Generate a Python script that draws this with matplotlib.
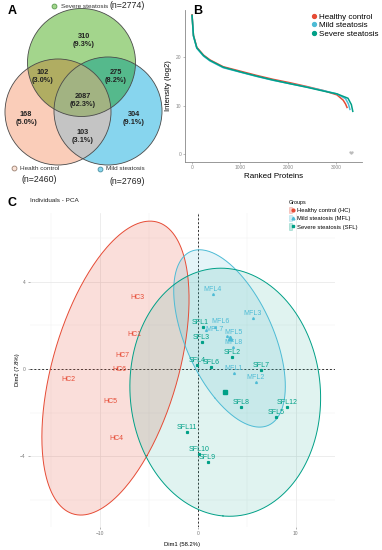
import numpy as np
import matplotlib
matplotlib.use("Agg")
import matplotlib.pyplot as plt
from matplotlib.patches import Circle, Patch
from matplotlib.lines import Line2D
from matplotlib.legend_handler import HandlerTuple

plt.rcParams['font.family'] = ['Liberation Sans', 'DejaVu Sans']

# ---- panel A data: venn region counts
venn_regions = ["S", "HS", "SM", "HSM", "H", "M", "HM"]
venn_counts = [310, 102, 275, 2087, 168, 304, 103]
set_names = ["Severe steatosis", "Health control", "Mild steatosis"]

# ---- panel B data: ranked protein intensities (log2)
rank_hc = [1, 30, 100, 240, 375, 650, 1000, 1350, 1690, 2040, 2400, 2730, 3020, 3150, 3200, 3230]
int_hc = [28.7, 24.5, 22.0, 20.4, 19.4, 18.0, 17.1, 16.2, 15.4, 14.7, 13.9, 13.1, 12.2, 11.1, 10.3, 9.6]
rank_mfl = [1, 30, 100, 240, 375, 650, 1000, 1350, 1690, 2040, 2400, 2730, 3020, 3200, 3260, 3290]
int_mfl = [28.5, 24.3, 21.8, 20.2, 19.2, 17.8, 16.9, 16.0, 15.2, 14.5, 13.8, 13.1, 12.4, 11.4, 10.3, 9.2]
rank_sfl = [1, 30, 100, 240, 375, 650, 1000, 1350, 1690, 2040, 2400, 2730, 3020, 3250, 3320, 3350]
int_sfl = [28.6, 24.4, 21.9, 20.3, 19.3, 17.9, 16.95, 16.05, 15.25, 14.5, 13.75, 13.0, 12.4, 11.5, 10.2, 8.8]
tail_rank = [3300, 3320, 3340]
tail_int = [0.4, 0.3, 0.5]

# ---- panel C data: PCA individuals
hc_names = ["HC1", "HC2", "HC3", "HC4", "HC5", "HC6", "HC7"]
hc_dim1 = [-6.5, -13.2, -6.1, -8.3, -8.9, -8.0, -7.7]
hc_dim2 = [1.6, -0.5, 3.3, -3.2, -1.5, 0.0, 0.6]
mfl_names = ["MFL1", "MFL2", "MFL3", "MFL4", "MFL5", "MFL6", "MFL7", "MFL8"]
mfl_dim1 = [3.7, 5.9, 5.6, 1.55, 3.0, 1.8, 0.8, 3.6]
mfl_dim2 = [-0.2, -0.6, 2.34, 3.44, 1.5, 1.95, 1.8, 1.0]
sfl_names = ["SFL1", "SFL2", "SFL3", "SFL4", "SFL5", "SFL6", "SFL7", "SFL8",
             "SFL9", "SFL10", "SFL11", "SFL12"]
sfl_dim1 = [0.5, 3.5, 0.4, -0.1, 8.0, 1.4, 6.5, 4.4, 1.0, 0.1, -1.1, 9.1]
sfl_dim2 = [1.93, 0.55, 1.24, 0.2, -2.2, 0.1, -0.05, -1.74, -4.27, -3.9, -2.9, -1.74]

red = "#E64B35"
blue = "#4DBBD5"
green = "#00A087"

fig = plt.figure(figsize=(3.82, 5.5), dpi=100)


def px_axes(l, t, r, b):
    return fig.add_axes([l / 382, 1 - b / 550, (r - l) / 382, (b - t) / 550])


# ================= A: venn
axA = px_axes(0, 0, 175, 190)
axA.set_xlim(0, 175)
axA.set_ylim(190, 0)
axA.axis("off")

circ = {"S": (81.5, 62.5, 54), "H": (58, 112, 53), "M": (108, 111, 54)}
region_col = {"S": "#a3d68c", "H": "#facdb9", "M": "#87d6ee", "HS": "#b0ad62",
              "SM": "#55b98c", "HM": "#c4c4c4", "HSM": "#a2b382"}
xs = np.arange(0, 175, 0.25) + 0.125
ys = np.arange(0, 190, 0.25) + 0.125
X, Y = np.meshgrid(xs, ys)
inside = {k: (X - c[0]) ** 2 + (Y - c[1]) ** 2 <= c[2] ** 2 for k, c in circ.items()}
img = np.ones(X.shape + (3,))
for key, col in region_col.items():
    m = np.ones(X.shape, bool)
    for k in "HSM":
        m &= inside[k] if k in key else ~inside[k]
    img[m] = matplotlib.colors.to_rgb(col)
axA.imshow(img, extent=(0, 175, 190, 0), interpolation="bilinear", zorder=1)
for k, (cx, cy, r) in circ.items():
    axA.add_patch(Circle((cx, cy), r, fill=False, ec="#4a4a4a", lw=0.6, zorder=2))

total = sum(venn_counts)
label_pos = {"S": (84, 37), "HS": (43, 73), "SM": (116, 73), "HSM": (83, 96),
             "H": (26, 115), "M": (134, 115), "HM": (83, 133)}
for reg, cnt in zip(venn_regions, venn_counts):
    x, y = label_pos[reg]
    axA.text(x, y, str(cnt), ha="center", va="center", fontsize=5.3,
             fontweight="bold", color="#222222", zorder=3)
    axA.text(x, y + 8, "(%.1f%%)" % (100 * cnt / total), ha="center", va="center",
             fontsize=5.3, fontweight="bold", color="#222222", zorder=3)

set_n = {k: sum(c for r, c in zip(venn_regions, venn_counts) if k in r) for k in "SHM"}
axA.plot([54], [6], "o", ms=3.5, mfc="#a3d68c", mec="#5a9a50", mew=0.6)
axA.text(61, 6, set_names[0], fontsize=4.6, va="center", color="#333333")
axA.text(110, 6, "(n=%d)" % set_n["S"], fontsize=6.3, va="center", color="#222222")
axA.plot([14], [168], "o", ms=3.5, mfc="#fbe3d8", mec="#9a8070", mew=0.6)
axA.text(20, 168, set_names[1], fontsize=4.6, va="center", color="#333333")
axA.text(21, 180, "(n=%d)" % set_n["H"], fontsize=6.3, va="center", color="#222222")
axA.plot([100], [169], "o", ms=3.5, mfc="#87d6ee", mec="#4a8fa0", mew=0.6)
axA.text(106, 169, set_names[2], fontsize=4.6, va="center", color="#333333")
axA.text(110, 181, "(n=%d)" % set_n["M"], fontsize=6.3, va="center", color="#222222")

fig.text(8 / 382, 1 - 11 / 550, "A", fontsize=9, fontweight="bold", va="center")
fig.text(193 / 382, 1 - 11 / 550, "B", fontsize=9, fontweight="bold", va="center")
fig.text(8 / 382, 1 - 203 / 550, "C", fontsize=9, fontweight="bold", va="center")

# ================= B: ranked intensities
axB = px_axes(185, 10, 362, 162)
axB.plot(rank_hc, int_hc, color=red, lw=1.1)
axB.plot(rank_mfl, int_mfl, color=blue, lw=1.1)
axB.plot(rank_sfl, int_sfl, color=green, lw=1.1)
axB.scatter(tail_rank, tail_int, s=0.5, color="#bbbbbb")
axB.set_xlim(-146, 3542)
axB.set_ylim(-1.65, 29.7)
axB.set_xticks([0, 1000, 2000, 3000])
axB.set_yticks([0, 10, 20])
for s in ["top", "right"]:
    axB.spines[s].set_visible(False)
for s in ["left", "bottom"]:
    axB.spines[s].set_color("#888888")
    axB.spines[s].set_linewidth(0.6)
axB.tick_params(labelsize=3.5, colors="#888888", length=1.5, width=0.4, pad=1)
axB.set_xlabel("Ranked Proteins", fontsize=5.8, labelpad=2)
axB.set_ylabel("Intensity (log2)", fontsize=5.5, labelpad=3)
hB = [Line2D([], [], ls="", marker="o", ms=2.8, color=c) for c in (red, blue, green)]
fig.legend(hB, ["Healthy control", "Mild steatosis", "Severe steatosis"],
           loc="upper left", bbox_to_anchor=(312 / 382, 1 - 13 / 550), frameon=False,
           fontsize=5.8, handlelength=0.5, handletextpad=0.35, labelspacing=0.1,
           borderaxespad=0, borderpad=0)

# ================= C: PCA
axC = px_axes(30, 213, 335, 527)
axC.set_xlim(-17.1, 14.0)
axC.set_ylim(-7.25, 7.16)
axC.set_xticks([-10, 0, 10])
axC.set_yticks([-4, 0, 4])
axC.set_xticks([-15, -5, 5], minor=True)
axC.set_yticks([-6, -2, 2, 6], minor=True)
axC.grid(True, which="major", color="#e6e6e6", lw=0.5)
axC.grid(True, which="minor", color="#f0f0f0", lw=0.35)
axC.set_axisbelow(True)
for s in axC.spines.values():
    s.set_visible(False)
axC.tick_params(labelsize=3.5, colors="#777777", length=1.5, width=0.4, pad=1.5)
axC.tick_params(which="minor", length=0)
axC.axhline(0, color="#333333", lw=0.7, ls=(0, (2, 2)), zorder=1)
axC.axvline(0, color="#333333", lw=0.7, ls=(0, (2, 2)), zorder=1)
axC.set_xlabel("Dim1 (58.2%)", fontsize=4.2, labelpad=4)
axC.set_ylabel("Dim2 (7.8%)", fontsize=4.2, labelpad=0.5)

# F quantiles qf(0.95, 2, n-1) for the normal-theory ellipses
f95 = {7: 5.143, 8: 4.737, 12: 3.982}
groups = [
    (hc_names, hc_dim1, hc_dim2, red, "o", 0.18),
    (mfl_names, mfl_dim1, mfl_dim2, blue, "^", 0.15),
    (sfl_names, sfl_dim1, sfl_dim2, green, "s", 0.12),
]
t = np.linspace(0, 2 * np.pi, 300)
for names, gx, gy, col, mk, al in groups:
    pts = np.column_stack([gx, gy])
    mu = pts.mean(axis=0)
    cov = np.cov(pts.T)
    vals, vecs = np.linalg.eigh(cov)
    rad = np.sqrt(2 * f95[len(names)])
    circle = np.vstack([np.cos(t), np.sin(t)])
    ell = mu[:, None] + rad * vecs @ (np.sqrt(vals)[:, None] * circle)
    axC.fill(ell[0], ell[1], color=col, alpha=al, lw=0, zorder=2)
    axC.plot(ell[0], ell[1], color=col, lw=0.7, zorder=3)

# a few labels pushed aside, as the repelled labels are in the original
nudge = {"MFL7": (9, -4), "MFL6": (5, 0), "MFL5": (6, -1), "SFL1": (-2, 0)}
for names, gx, gy, col, mk, al in groups:
    if col == red:
        # healthy control: only the text labels show in the original
        for n, x, y in zip(names, gx, gy):
            axC.annotate(n, (x, y), ha="center", va="center", fontsize=5,
                         color=col, zorder=5)
        continue
    axC.plot(gx, gy, ls="", marker=mk, ms=1.3, color=col, zorder=4)
    axC.plot([np.mean(gx)], [np.mean(gy)], ls="", marker=mk, ms=3.2, color=col, zorder=4)
    for n, x, y in zip(names, gx, gy):
        dx, dy = nudge.get(n, (0, 0))
        axC.annotate(n, (x, y), xytext=(dx * 0.72, 0.8 + dy * 0.72),
                     textcoords="offset points", ha="center", va="bottom",
                     fontsize=5, color=col, zorder=5)

fig.text(30 / 382, 1 - 201 / 550, "Individuals - PCA", fontsize=4.6, va="center",
         color="#222222")

hC = [(Patch(fc=c, ec=c, alpha=0.25, lw=0.6),
       Line2D([], [], ls="", marker=m, ms=2, color=c))
      for c, m in ((red, "o"), (blue, "^"), (green, "s"))]
fig.legend(hC, ["Healthy control (HC)", "Mild steatosis (MFL)", "Severe steatosis (SFL)"],
           loc="upper left", bbox_to_anchor=(289 / 382, 1 - 200 / 550), frameon=False,
           fontsize=4.2, title="Groups", title_fontsize=3.9, alignment="left",
           handlelength=0.9, handleheight=1.25, handletextpad=0.5, labelspacing=0.35,
           borderaxespad=0, borderpad=0,
           handler_map={tuple: HandlerTuple(ndivide=None, pad=0)})

fig.savefig("out.png", dpi=100)
